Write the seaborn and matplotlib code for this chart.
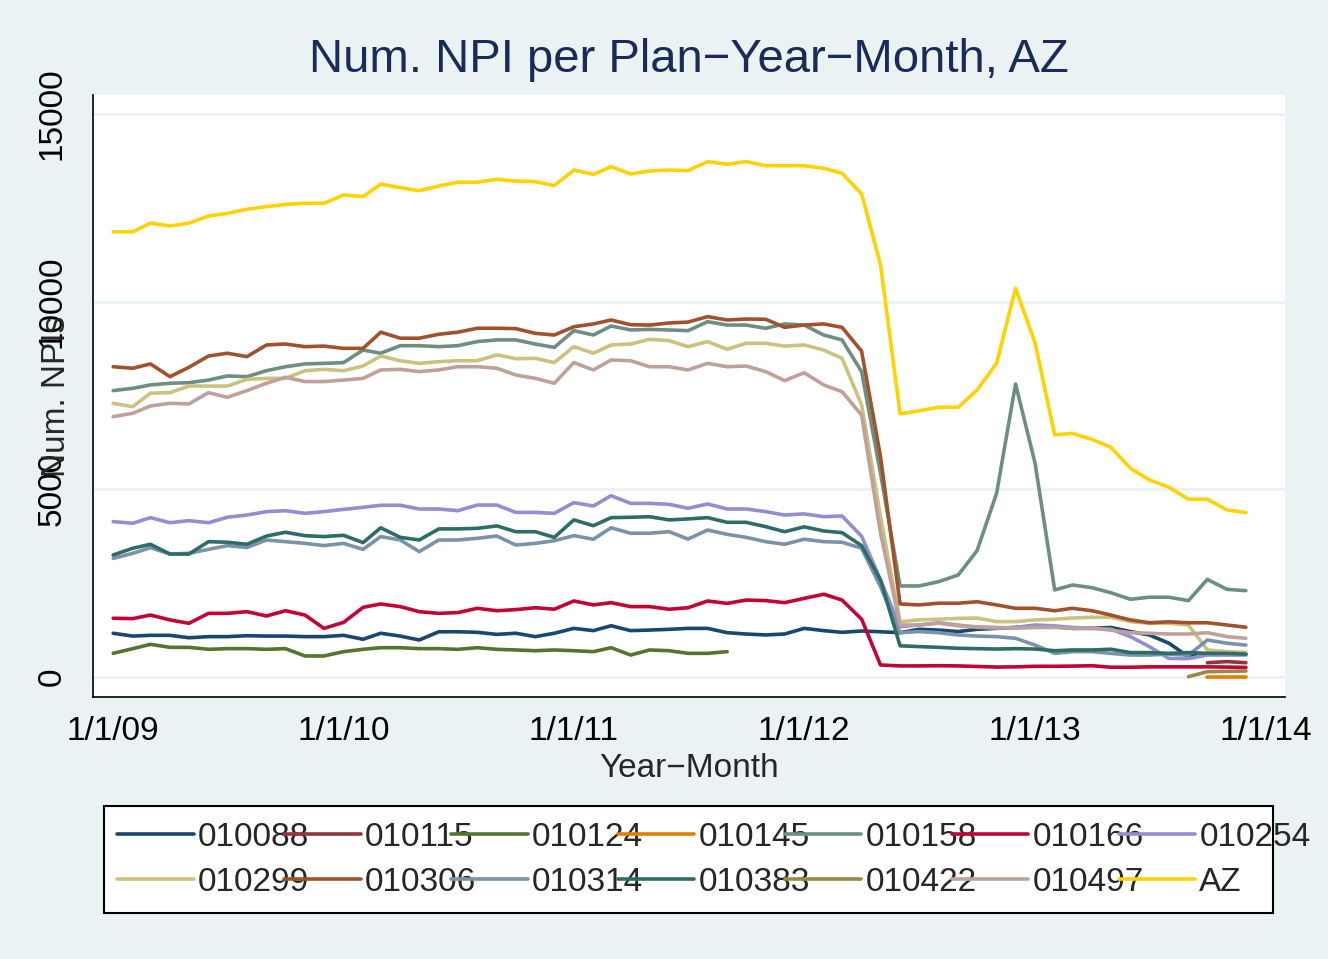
import numpy as np
import pandas as pd
import matplotlib
matplotlib.use("Agg")
import matplotlib.pyplot as plt
from matplotlib.patches import Rectangle
import seaborn as sns

# --- data: monthly counts, Jan 2009 .. Dec 2013 (None = plan not present) ---
N = None
months = pd.date_range("2009-01-01", periods=60, freq="MS")

p010088 = [1165, 1090, 1110, 1110, 1045, 1075, 1075, 1100, 1090, 1090, 1075, 1075,
           1110, 1005, 1165, 1090, 985, 1205, 1205, 1190, 1135, 1165, 1075, 1165,
           1295, 1235, 1365, 1235, 1250, 1270, 1295, 1295, 1180, 1145, 1120, 1145,
           1295, 1235, 1190, 1225, 1205, 1180, 1270, 1250, 1210, 1270, 1295, 1320,
           1360, 1340, 1295, 1295, 1320, 1210, 1120, 900, 540, 630, 630, 610]
p010115 = [N] * 57 + [380, 410, 380]
p010124 = [631, 755, 870, 790, 790, 737, 755, 755, 737, 755, 560, 560,
           675, 737, 780, 780, 755, 755, 737, 780, 737, 720, 700, 720,
           700, 675, 780, 585, 720, 700, 630, 630, 675] + [N] * 27
p010145 = [N] * 57 + [10, 10, 10]
p010158 = [7630, 7690, 7780, 7825, 7840, 7910, 8020, 8000, 8160, 8265, 8340, 8355,
           8375, 8710, 8625, 8825, 8825, 8800, 8825, 8935, 8980, 8980, 8870, 8780,
           9225, 9110, 9350, 9245, 9260, 9245, 9225, 9465, 9375, 9375, 9290, 9405,
           9375, 9110, 8980, 8135, 5430, 2425, 2425, 2540, 2715, 3365, 4895, 7805,
           5690, 2320, 2450, 2380, 2245, 2070, 2125, 2125, 2035, 2600, 2335, 2300]
p010166 = [1565, 1555, 1650, 1520, 1430, 1695, 1695, 1740, 1625, 1765, 1650, 1295,
           1455, 1855, 1945, 1875, 1740, 1695, 1715, 1830, 1765, 1795, 1845, 1805,
           2025, 1920, 1980, 1875, 1875, 1805, 1845, 2025, 1960, 2050, 2035, 1980,
           2095, 2205, 2050, 1540, 320, 295, 295, 300, 295, 280, 265, 270,
           285, 285, 290, 300, 260, 260, 270, 270, 270, 270, 265, 255]
p010254 = [4140, 4095, 4245, 4110, 4165, 4110, 4255, 4315, 4405, 4430, 4360, 4405,
           4465, 4520, 4575, 4575, 4475, 4475, 4430, 4580, 4580, 4385, 4385, 4360,
           4645, 4555, 4830, 4625, 4625, 4600, 4495, 4610, 4475, 4475, 4405, 4315,
           4345, 4270, 4290, 3750, 2585, 1340, 1385, 1445, 1385, 1320, 1300, 1320,
           1385, 1360, 1320, 1300, 1275, 1075, 810, 495, 490, 585, 585, 585]
p010299 = [7290, 7200, 7560, 7575, 7750, 7750, 7750, 7930, 7955, 7955, 8160, 8195,
           8160, 8285, 8550, 8425, 8355, 8400, 8425, 8425, 8580, 8480, 8490, 8375,
           8800, 8625, 8845, 8870, 8995, 8960, 8800, 8935, 8730, 8890, 8890, 8815,
           8845, 8710, 8490, 7250, 4270, 1470, 1520, 1540, 1560, 1570, 1475, 1475,
           1520, 1540, 1570, 1590, 1590, 1475, 1430, 1430, 1385, 720, 675, 660]
p010306 = [8265, 8225, 8340, 8000, 8250, 8550, 8625, 8535, 8845, 8870, 8800, 8815,
           8755, 8755, 9185, 9025, 9025, 9130, 9185, 9290, 9290, 9280, 9155, 9110,
           9330, 9405, 9510, 9385, 9375, 9430, 9455, 9600, 9510, 9535, 9530, 9315,
           9375, 9405, 9315, 8680, 5870, 1945, 1920, 1965, 1965, 2005, 1920, 1830,
           1830, 1765, 1830, 1765, 1650, 1520, 1445, 1470, 1445, 1445, 1385, 1325]
p010314 = [3160, 3295, 3445, 3275, 3295, 3400, 3500, 3450, 3650, 3605, 3560, 3500,
           3560, 3400, 3740, 3650, 3340, 3650, 3650, 3695, 3755, 3515, 3560, 3630,
           3765, 3670, 3975, 3830, 3830, 3870, 3675, 3915, 3800, 3720, 3605, 3535,
           3670, 3605, 3590, 3430, 2405, 1180, 1210, 1180, 1120, 1090, 1075, 1030,
           850, 630, 675, 675, 630, 585, 585, 610, 585, 985, 900, 850]
p010383 = [3250, 3430, 3535, 3275, 3275, 3605, 3590, 3535, 3755, 3855, 3765, 3740,
           3775, 3580, 3975, 3720, 3650, 3945, 3945, 3960, 4025, 3870, 3870, 3720,
           4185, 4030, 4245, 4255, 4270, 4185, 4210, 4245, 4120, 4120, 4005, 3870,
           4000, 3890, 3845, 3500, 2585, 830, 810, 790, 765, 755, 745, 755,
           745, 700, 720, 720, 740, 650, 650, 630, 650, 630, 630, 610]
p010422 = [N] * 56 + [10, 140, 150, 160]
p010497 = [6935, 7025, 7220, 7290, 7275, 7575, 7450, 7630, 7825, 7985, 7870, 7870,
           7910, 7955, 8180, 8195, 8135, 8180, 8265, 8265, 8225, 8045, 7955, 7825,
           8375, 8180, 8445, 8425, 8265, 8265, 8180, 8355, 8265, 8285, 8135, 7895,
           8105, 7780, 7600, 6980, 3835, 1385, 1385, 1430, 1365, 1340, 1320, 1300,
           1320, 1320, 1300, 1300, 1250, 1180, 1165, 1145, 1145, 1180, 1075, 1030]
pAZ = [11860, 11860, 12090, 12015, 12090, 12280, 12350, 12460, 12530, 12590, 12620, 12620,
       12840, 12800, 13130, 13035, 12955, 13080, 13180, 13180, 13260, 13210, 13195, 13090,
       13505, 13390, 13595, 13400, 13480, 13505, 13490, 13730, 13660, 13730, 13620, 13620,
       13620, 13550, 13420, 12870, 10980, 7010, 7090, 7185, 7185, 7645, 8360, 10355,
       8890, 6450, 6490, 6330, 6120, 5560, 5250, 5055, 4735, 4735, 4450, 4380]

plans = ["010088", "010115", "010124", "010145", "010158", "010166", "010254",
         "010299", "010306", "010314", "010383", "010422", "010497", "AZ"]
series = [p010088, p010115, p010124, p010145, p010158, p010166, p010254,
          p010299, p010306, p010314, p010383, p010422, p010497, pAZ]
# Stata s2color sequence
colors = ["#1A476F", "#90353B", "#55752F", "#E37E00", "#6E8E84", "#C10534", "#938DD2",
          "#CAC27E", "#A0522D", "#7B92A8", "#2D6D66", "#9C8847", "#BFA19C", "#FFD200"]

year_ticks = pd.to_datetime(["2009-01-01", "2010-01-01", "2011-01-01",
                             "2012-01-01", "2013-01-01", "2014-01-01"])
year_labels = ["1/1/09", "1/1/10", "1/1/11", "1/1/12", "1/1/13", "1/1/14"]
y_ticks = [0, 5000, 10000, 15000]

# long table for seaborn
frames = []
for name, vals in zip(plans, series):
    frames.append(pd.DataFrame({"month": months, "npi": vals, "plan": name}))
df = pd.concat(frames, ignore_index=True)
df["npi"] = pd.to_numeric(df["npi"])
df = df.dropna()

# --- style ---
BG = "#EAF2F3"
TITLE_C = "#1A2B56"
FS = 24
LW = 2.6
sns.set_style("white")
plt.rcParams["font.family"] = ["Liberation Sans", "DejaVu Sans"]

fig = plt.figure(figsize=(13.28, 9.59), dpi=100, facecolor=BG)
W, H = 1328, 959
ax = fig.add_axes([93 / W, 1 - 697 / H, 1192 / W, 602 / H])
ax.set_facecolor("white")

sns.lineplot(data=df, x="month", y="npi", hue="plan", hue_order=plans,
             palette=dict(zip(plans, colors)), linewidth=LW, legend=False, ax=ax)

ax.set_xlim(pd.Timestamp("2008-11-30"), pd.Timestamp("2014-02-01"))
ax.set_ylim(-533, 15504)

ax.set_yticks(y_ticks)
ax.set_yticklabels([str(v) for v in y_ticks], rotation=90, va="center")
ax.set_xticks(year_ticks)
ax.set_xticklabels(year_labels)
ax.grid(axis="y", color=BG, linewidth=2)
ax.grid(axis="x", visible=False)

for s in ["top", "right"]:
    ax.spines[s].set_visible(False)
for s in ["left", "bottom"]:
    ax.spines[s].set_color("black")
    ax.spines[s].set_linewidth(1.2)

ax.tick_params(axis="both", which="major", direction="out", length=8, width=1.2,
               color="black", labelsize=FS, labelcolor="black")
ax.tick_params(axis="y", pad=10)
ax.tick_params(axis="x", pad=6)

ax.set_xlabel("Year\u2212Month", fontsize=FS, labelpad=4)
ax.set_ylabel("Num. NPIs", fontsize=FS)
ax.yaxis.set_label_coords(-0.018, 0.5)

fig.text(689 / W, 1 - 60 / H, "Num. NPI per Plan\u2212Year\u2212Month, AZ",
         ha="center", va="center", fontsize=34, color=TITLE_C)

# legend frame drawn separately so that the last column can spill over, as in Stata
fig.add_artist(Rectangle((104 / W, 1 - 913 / H), 1169 / W, 107 / H,
                         transform=fig.transFigure, facecolor="white",
                         edgecolor="black", linewidth=1.5, zorder=1))

# legend, row-major like Stata (2 rows x 7 cols)
handles = list(ax.get_lines())[:len(plans)]
order = []
for c in range(7):
    order += [c, c + 7]
leg = fig.legend([handles[i] for i in order], [plans[i] for i in order],
                 ncol=7, loc="upper left", bbox_to_anchor=(117 / W, 1 - 822 / H),
                 fontsize=FS, frameon=False, borderpad=0, borderaxespad=0,
                 handlelength=2.3, handletextpad=0.12, columnspacing=-0.75,
                 labelspacing=0.42)
leg.set_zorder(2)
for ln in leg.get_lines():
    ln.set_linewidth(LW)

fig.savefig("out.png", dpi=100, facecolor=BG)
